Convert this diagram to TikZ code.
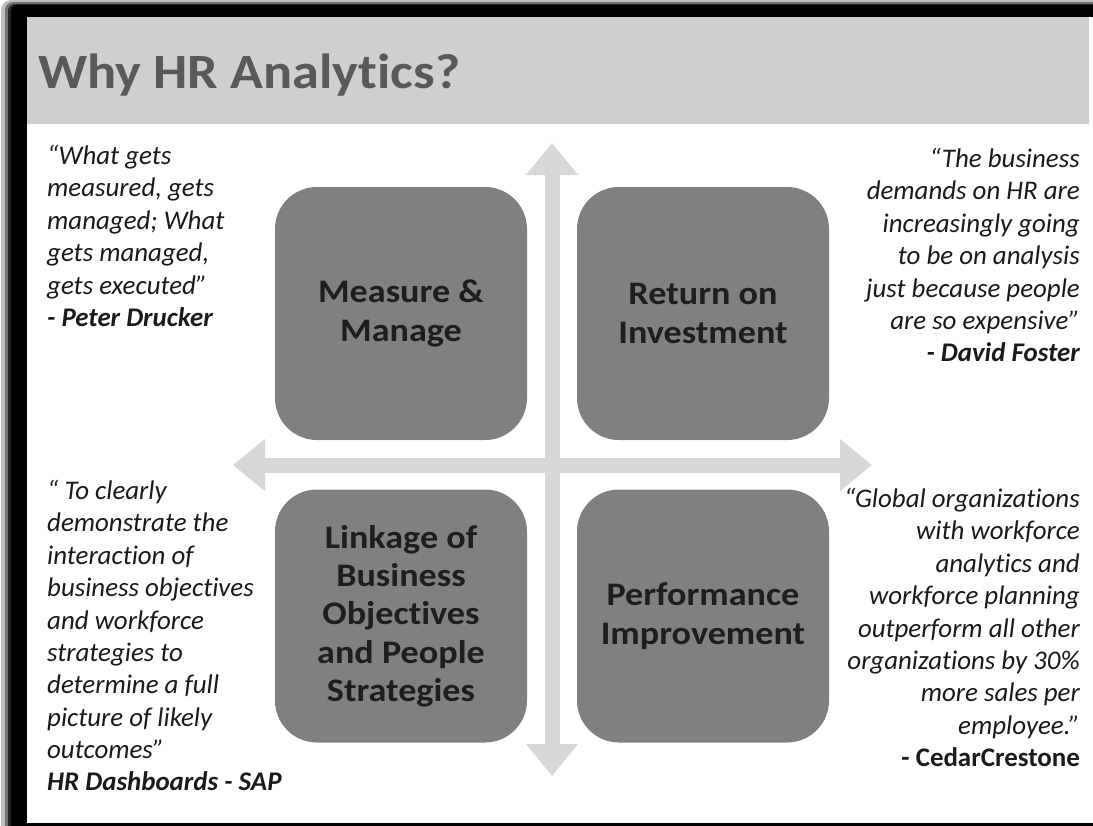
\documentclass[tikz,border=0pt]{standalone}
\usepackage{fontspec}
\setmainfont[Ligatures={NoCommon}]{Carlito}
\newfontfamily\widefont[Ligatures={NoCommon},FakeStretch=1.1]{Carlito}
\usetikzlibrary{arrows.meta}
\definecolor{titlebar}{HTML}{CFCFCF}
\definecolor{titletext}{HTML}{595959}
\definecolor{boxgray}{HTML}{808080}
\definecolor{arrowgray}{HTML}{D8D8D8}
\definecolor{labeltext}{HTML}{1E1E1E}
\definecolor{quotetext}{HTML}{1A1A1A}
\tikzset{
  quadbox/.style={draw=none, fill=boxgray, rounded corners=42bp, minimum width=252bp, minimum height=253bp, inner sep=0pt, align=center, text=labeltext, font={\widefont\fontsize{33}{38.5}\selectfont\bfseries}},
  quote/.style={inner sep=0pt, text=quotetext, font={\fontsize{27}{32.5}\selectfont\itshape}},
  crossarrow/.style={draw=arrowgray, line width=15bp, {Triangle[width=50bp,length=32bp]}-{Triangle[width=50bp,length=32bp]}},
}
\begin{document}
\begin{tikzpicture}[x=1bp, y=-1bp]
\useasboundingbox (0,0) rectangle (1093,826);
\fill[white] (0,0) rectangle (1093,826);
% frame and shadow
\fill[black!25, rounded corners=10bp] (1,0) rectangle (1110,840);
\fill[black!55, rounded corners=8bp] (5,2) rectangle (1110,840);
\fill[black!85, rounded corners=7bp] (8,4) rectangle (1110,840);
\fill[black, rounded corners=6bp] (11,5) rectangle (1110,840);
\fill[white] (27,17) rectangle (1110,823);
% title bar
\fill[titlebar] (27,17) rectangle (1089,124);
\node[anchor=base west, inner sep=0pt, text=titletext, font={\widefont\fontsize{49.5}{58}\selectfont\bfseries}] (title) at (38,88) {Why HR Analytics?};
% cross arrows
\coordinate (vtop) at (552,143);
\coordinate (vbot) at (552,776);
\coordinate (hleft) at (233,465);
\coordinate (hright) at (872,465);
\draw[crossarrow] (vtop) -- (vbot);
\draw[crossarrow] (hleft) -- (hright);
% quadrant boxes
\node[quadbox] (mm) at (401,313.5) {Measure \&\\Manage};
\node[quadbox] (roi) at (703,313.5) {Return on\\Investment};
\node[quadbox] (link) at (401,616) {Linkage of\\Business\\Objectives\\and People\\Strategies};
\node[quadbox] (perf) at (703,616) {Performance\\Improvement};
% quotes
\node[quote, anchor=north west, align=left] (qtl) at (47,145) {“What gets\\measured, gets\\managed; What\\gets managed,\\gets executed”\\\textbf{- Peter Drucker}};
\node[quote, anchor=north east, align=right] (qtr) at (1080,148) {“The business\\demands on HR are\\increasingly going\\to be on analysis\\just because people\\are so expensive”\\\textbf{- David Foster}};
\node[quote, anchor=north west, align=left] (qbl) at (47,480) {“ To clearly\\demonstrate the\\interaction of\\business objectives\\and workforce\\strategies to\\determine a full\\picture of likely\\outcomes”\\\textbf{HR Dashboards - SAP}};
\node[quote, anchor=north east, align=right] (qbr) at (1080,488) {“Global organizations\\with workforce\\analytics and\\workforce planning\\outperform all other\\organizations by 30\%\\more sales per\\employee.”\\\textbf{\upshape - CedarCrestone}};
\end{tikzpicture}
\end{document}
